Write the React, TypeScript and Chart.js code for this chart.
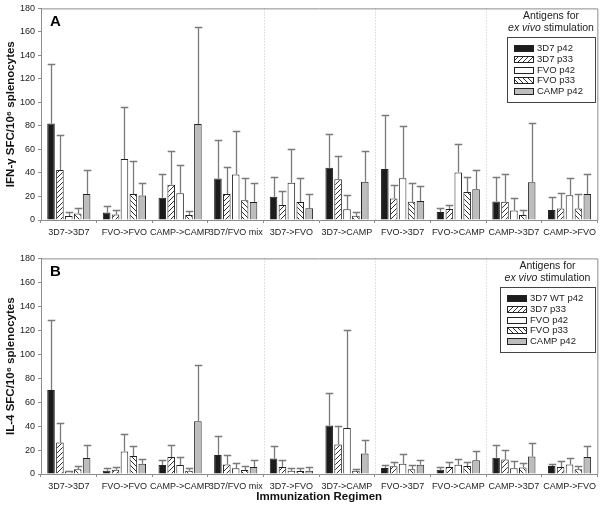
import React, { useEffect, useRef } from 'react';
import { Chart, registerables } from 'chart.js';

Chart.register(...registerables);

const FONT = '"Liberation Sans", Arial, Helvetica, sans-serif';

// ---------- data ----------
const categories = [
  '3D7->3D7', 'FVO->FVO', 'CAMP->CAMP', '3D7/FVO mix', '3D7->FVO',
  '3D7->CAMP', 'FVO->3D7', 'FVO->CAMP', 'CAMP->3D7', 'CAMP->FVO',
];
const separatorStarts = [4, 6, 8];
const yTickStep = 20;
const yMax = 180;

const legendLabelsA = ['3D7 p42', '3D7 p33', 'FVO p42', 'FVO p33', 'CAMP p42'];
const legendLabelsB = ['3D7 WT p42', '3D7 p33', 'FVO p42', 'FVO p33', 'CAMP p42'];

// Panel A: IFN-gamma (mean, and top of error bar)
const ifn3D7p42 = [82, 6.4, 19, 35.3, 19.7, 44.4, 43.3, 6.7, 15.8, 8.6];
const ifn3D7p42Up = [133, 11.7, 39, 68, 37, 73.3, 88.9, 10, 36.4, 19.4];
const ifn3D7p33 = [42.5, 4.7, 30, 22.2, 12.8, 34.7, 18.3, 9.4, 15.6, 9.7];
const ifn3D7p33Up = [72.2, 8.9, 58.3, 44.7, 24.4, 54.7, 29.4, 12.8, 39.4, 22.8];
const ifnFVOp42 = [3.3, 51.9, 22.8, 38.6, 31.7, 9.2, 35.5, 40.5, 8, 21.1];
const ifnFVOp42Up = [7.2, 96, 46.9, 75.6, 60.8, 21.4, 80, 65, 18.3, 36.1];
const ifnFVOp33 = [5.6, 22.2, 4.2, 16.7, 15.3, 3.6, 15.6, 23.9, 4.2, 9.7];
const ifnFVOp33Up = [10.6, 50.6, 7.8, 36.1, 35.8, 7.2, 31.1, 36.9, 8.9, 22.5];
const ifnCAMPp42 = [22.2, 20.8, 81.7, 15.3, 10, 32.5, 16.1, 26.1, 32.2, 22.2];
const ifnCAMPp42Up = [42.8, 31.1, 164.4, 31.1, 22.2, 58.9, 28.9, 42.2, 82.2, 39.4];

// Panel B: IL-4
const il3D7p42 = [70.2, 2.8, 7.5, 15.8, 13, 40.4, 5, 3.6, 13.6, 6.6];
const il3D7p42Up = [128.7, 5.3, 11.6, 31.8, 23.5, 67.6, 7.8, 5.8, 24.6, 8.6];
const il3D7p33 = [26.3, 3.6, 14.1, 8, 5.8, 24.6, 6.4, 5.8, 12.2, 5.8];
const il3D7p33Up = [42.4, 6.1, 24.4, 15.8, 11.9, 39.9, 10.2, 10, 20.2, 11.1];
const ilFVOp42 = [2.2, 18.8, 7.5, 4.7, 2.8, 38.5, 8.6, 7.8, 4.7, 8];
const ilFVOp42Up = [2.6, 33.8, 14.1, 9.1, 5.3, 120.2, 16.3, 12.7, 11.1, 13.3];
const ilFVOp33 = [3.9, 15, 2.8, 3.3, 2.5, 2.8, 4, 6.6, 5.5, 3.9];
const ilFVOp33Up = [6.6, 23.3, 5, 6.4, 5.3, 4.2, 7.8, 10.2, 9.4, 6.6];
const ilCAMPp42 = [13.3, 8.6, 44, 5.8, 2.8, 17.2, 7.8, 11.4, 14.7, 14.1];
const ilCAMPp42Up = [24.4, 12.5, 91, 11.6, 5.8, 28.8, 11.9, 19.4, 25.5, 23.5];

// ---------- styling helpers ----------
function makeHatch(forward: boolean): any {
  const s = 5;
  const c = document.createElement('canvas');
  c.width = s;
  c.height = s;
  const g = c.getContext('2d');
  if (!g) return '#fff';
  g.fillStyle = '#fff';
  g.fillRect(0, 0, s, s);
  g.strokeStyle = '#1a1a1a';
  g.lineWidth = 0.9;
  g.beginPath();
  for (let k = -1; k <= 1; k++) {
    if (forward) {
      g.moveTo(k * s, s);
      g.lineTo(k * s + s, 0);
    } else {
      g.moveTo(k * s, 0);
      g.lineTo(k * s + s, s);
    }
  }
  g.stroke();
  return g.createPattern(c, 'repeat') || '#fff';
}

interface PanelCfg {
  letter: string;
  yTitle: string;
  xTitle: string | null;
  legendLabels: string[];
  values: number[][];
  uppers: number[][];
  padTop: number;
  xAxisHeight: number;
}

const AXIS = '#8c8c8c';

function buildChart(canvas: HTMLCanvasElement, cfg: PanelCfg): Chart {
  const fills = ['#1c1c1c', makeHatch(true), '#ffffff', makeHatch(false), '#bdbdbd'];

  const plugin = {
    id: 'panelDeco' + cfg.letter,
    beforeDatasetsDraw(chart: any) {
      const { ctx, chartArea: a, scales } = chart;
      const x = scales.x;
      ctx.save();
      ctx.strokeStyle = '#c6c6c6';
      ctx.lineWidth = 1;
      ctx.setLineDash([1, 2]);
      for (const i of separatorStarts) {
        const px = Math.round((x.getPixelForValue(i - 1) + x.getPixelForValue(i)) / 2) + 0.5;
        ctx.beginPath();
        ctx.moveTo(px, a.top);
        ctx.lineTo(px, a.bottom);
        ctx.stroke();
      }
      ctx.restore();
    },
    afterDatasetsDraw(chart: any) {
      const { ctx, scales } = chart;
      const y = scales.y;
      ctx.save();
      ctx.strokeStyle = '#7a7a7a';
      ctx.lineWidth = 1.3;
      chart.data.datasets.forEach((_ds: any, di: number) => {
        const meta = chart.getDatasetMeta(di);
        const ups = cfg.uppers[di];
        meta.data.forEach((el: any, i: number) => {
          const yt = Math.round(y.getPixelForValue(ups[i])) + 0.5;
          const cx = Math.round(el.x) + 0.5;
          const half = el.width / 2;
          ctx.beginPath();
          ctx.moveTo(cx, el.y);
          ctx.lineTo(cx, yt);
          ctx.moveTo(cx - half, yt);
          ctx.lineTo(cx + half, yt);
          ctx.stroke();
        });
      });
      ctx.restore();
    },
    afterDraw(chart: any) {
      const { ctx, chartArea: a } = chart;
      ctx.save();
      // top and right frame
      ctx.strokeStyle = AXIS;
      ctx.lineWidth = 1;
      ctx.beginPath();
      ctx.moveTo(a.left, a.top + 0.5);
      ctx.lineTo(a.right + 0.5, a.top + 0.5);
      ctx.lineTo(a.right + 0.5, a.bottom);
      ctx.stroke();

      // panel letter
      ctx.fillStyle = '#000';
      ctx.font = `bold 15px ${FONT}`;
      ctx.textAlign = 'left';
      ctx.textBaseline = 'middle';
      ctx.fillText(cfg.letter, a.left + 9, a.top + 13);

      // legend
      ctx.font = `9.5px ${FONT}`;
      const maxW = Math.max(...cfg.legendLabels.map((l) => ctx.measureText(l).width));
      const boxW = Math.round(7 + 19 + 4 + maxW + 12);
      const boxR = Math.round(a.right - 2);
      const boxL = boxR - boxW;
      const boxT = Math.round(a.top + 29);
      const boxB = Math.round(a.top + 94);
      ctx.strokeStyle = '#444';
      ctx.lineWidth = 1;
      ctx.strokeRect(boxL + 0.5, boxT + 0.5, boxW, boxB - boxT);

      const cx = (boxL + boxR) / 2;
      ctx.fillStyle = '#222';
      ctx.textAlign = 'center';
      ctx.font = `10.5px ${FONT}`;
      ctx.fillText('Antigens for', cx, a.top + 8);
      const itFont = `italic 10.5px ${FONT}`;
      const rgFont = `10.5px ${FONT}`;
      ctx.font = itFont;
      const w1 = ctx.measureText('ex vivo').width;
      ctx.font = rgFont;
      const w2 = ctx.measureText(' stimulation').width;
      const sx = cx - (w1 + w2) / 2;
      ctx.textAlign = 'left';
      ctx.font = itFont;
      ctx.fillText('ex vivo', sx, a.top + 20);
      ctx.font = rgFont;
      ctx.fillText(' stimulation', sx + w1, a.top + 20);

      ctx.font = `9.5px ${FONT}`;
      cfg.legendLabels.forEach((lab, i) => {
        const yy = Math.round(a.top + 40 + i * 10.6);
        const rx = boxL + 7;
        ctx.fillStyle = fills[i];
        ctx.fillRect(rx, yy - 3, 19, 6);
        ctx.strokeStyle = '#222';
        ctx.strokeRect(rx + 0.5, yy - 3 + 0.5, 19, 6);
        ctx.fillStyle = '#222';
        ctx.fillText(lab, rx + 19 + 4, yy + 0.5);
      });
      ctx.restore();
    },
  };

  return new Chart(canvas, {
    type: 'bar',
    data: {
      labels: categories,
      datasets: cfg.values.map((vals, i) => ({
        label: cfg.legendLabels[i],
        data: vals,
        backgroundColor: fills[i],
        borderColor: '#222',
        borderWidth: 1,
        categoryPercentage: 0.8,
        barPercentage: 0.85,
      })),
    },
    options: {
      responsive: false,
      animation: false,
      devicePixelRatio: 1,
      layout: { padding: { top: cfg.padTop, right: 2, left: 0, bottom: 0 } },
      plugins: {
        legend: { display: false },
        tooltip: { enabled: false },
        title: { display: false },
      },
      scales: {
        x: {
          offset: true,
          grid: {
            display: true,
            offset: true,
            drawOnChartArea: false,
            drawTicks: true,
            tickLength: 3,
            color: AXIS,
          },
          border: { display: true, color: AXIS, width: 1 },
          ticks: {
            color: '#222',
            font: { family: FONT, size: 9 },
            padding: 4,
            maxRotation: 0,
            minRotation: 0,
            autoSkip: false,
          },
          title: cfg.xTitle
            ? {
                display: true,
                text: cfg.xTitle,
                color: '#111',
                font: { family: FONT, size: 11.5, weight: 'bold' },
                padding: { top: 0, bottom: 7 },
              }
            : { display: false },
          afterFit: (s: any) => {
            s.height = cfg.xAxisHeight;
          },
        } as any,
        y: {
          min: 0,
          max: yMax,
          grid: {
            display: true,
            drawOnChartArea: false,
            drawTicks: true,
            tickLength: 3,
            color: AXIS,
          },
          border: { display: true, color: AXIS, width: 1 },
          ticks: {
            stepSize: yTickStep,
            color: '#222',
            font: { family: FONT, size: 9 },
            padding: 3,
          },
          title: {
            display: true,
            text: cfg.yTitle,
            color: '#111',
            font: { family: FONT, size: 11.5, weight: 'bold' },
            padding: { top: 4, bottom: 0 },
          },
          afterFit: (s: any) => {
            s.width = 41;
          },
        } as any,
      },
    },
    plugins: [plugin],
  });
}

export default function App() {
  const refA = useRef<HTMLCanvasElement>(null);
  const refB = useRef<HTMLCanvasElement>(null);

  useEffect(() => {
    if (!refA.current || !refB.current) return;
    const a = buildChart(refA.current, {
      letter: 'A',
      yTitle: 'IFN-γ SFC/10⁶ splenocytes',
      xTitle: null,
      legendLabels: legendLabelsA,
      values: [ifn3D7p42, ifn3D7p33, ifnFVOp42, ifnFVOp33, ifnCAMPp42],
      uppers: [ifn3D7p42Up, ifn3D7p33Up, ifnFVOp42Up, ifnFVOp33Up, ifnCAMPp42Up],
      padTop: 4,
      xAxisHeight: 30,
    });
    const b = buildChart(refB.current, {
      letter: 'B',
      yTitle: 'IL-4 SFC/10⁶ splenocytes',
      xTitle: 'Immunization Regimen',
      legendLabels: legendLabelsB,
      values: [il3D7p42, il3D7p33, ilFVOp42, ilFVOp33, ilCAMPp42],
      uppers: [il3D7p42Up, il3D7p33Up, ilFVOp42Up, ilFVOp33Up, ilCAMPp42Up],
      padTop: 7,
      xAxisHeight: 37,
    });
    return () => {
      a.destroy();
      b.destroy();
    };
  }, []);

  return (
    <div
      style={{
        position: 'absolute',
        left: 0,
        top: 0,
        width: 600,
        height: 511,
        background: '#fff',
        overflow: 'hidden',
      }}
    >
      <canvas ref={refA} width={600} height={250} style={{ display: 'block', width: 600, height: 250 }} />
      <canvas ref={refB} width={600} height={261} style={{ display: 'block', width: 600, height: 261 }} />
    </div>
  );
}
